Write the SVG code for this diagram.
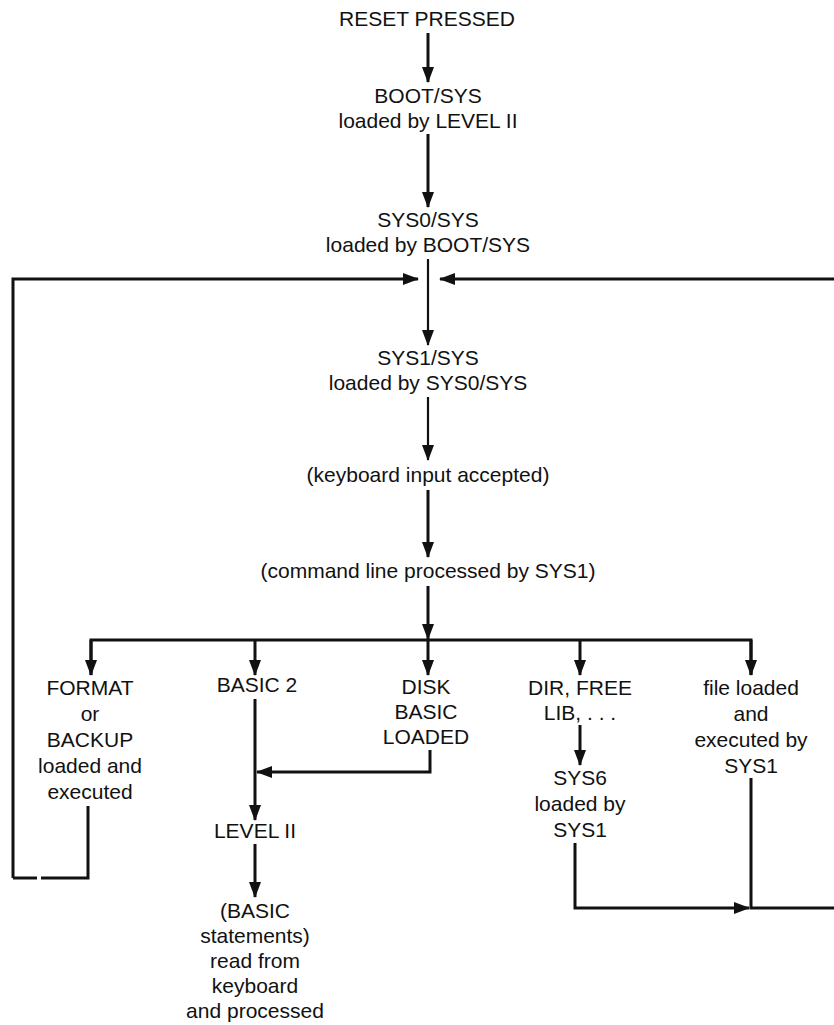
<svg xmlns="http://www.w3.org/2000/svg" width="834" height="1025" viewBox="0 0 834 1025">
<style>
text{font-family:"Liberation Sans",Arial,sans-serif;font-size:21px;fill:#111;text-anchor:middle}
.c{fill:none;stroke:#111;stroke-width:3}
.t{fill:none;stroke:#111;stroke-width:2.2}
</style>
<defs>
<marker id="ah" markerUnits="userSpaceOnUse" markerWidth="16" markerHeight="12" refX="15" refY="6" orient="auto">
<path d="M0,0 L16,6 L0,12 z" fill="#111"/>
</marker>
</defs>
<rect width="834" height="1025" fill="#fff"/>
<g id="connectors">
<path class="c" d="M428,33 V82" marker-end="url(#ah)"/>
<path class="c" d="M428,134 V207" marker-end="url(#ah)"/>
<path class="t" d="M428,259 V345" marker-end="url(#ah)"/>
<path class="c" d="M13,878 V279 H418" marker-end="url(#ah)"/>
<path class="c" d="M834,279 H440" marker-end="url(#ah)"/>
<path class="t" d="M428,397 V460" marker-end="url(#ah)"/>
<path class="c" d="M428,490 V557" marker-end="url(#ah)"/>
<path class="c" d="M428,586 V639" marker-end="url(#ah)"/>
<path class="c" d="M91,675 V640 H751 V675"/>
<path class="c" d="M91,640 V675" marker-end="url(#ah)"/>
<path class="c" d="M255,640 V675" marker-end="url(#ah)"/>
<path class="c" d="M428,640 V675" marker-end="url(#ah)"/>
<path class="c" d="M580,640 V675" marker-end="url(#ah)"/>
<path class="c" d="M751,640 V675" marker-end="url(#ah)"/>
<path class="c" d="M255,699 V820" marker-end="url(#ah)"/>
<path class="c" d="M430,750 V772 H257" marker-end="url(#ah)"/>
<path class="c" d="M255,844 V897" marker-end="url(#ah)"/>
<path class="c" d="M88,806 V878 H41"/>
<path class="c" d="M37,878 H13"/>
<path class="c" d="M580,725 V765" marker-end="url(#ah)"/>
<path class="c" d="M575,843 V908 H749" marker-end="url(#ah)"/>
<path class="c" d="M751,778 V908 H834"/>
</g>
<g id="n-reset"><text x="427" y="26">RESET PRESSED</text></g>
<g id="n-boot"><text x="428" y="103">BOOT/SYS</text><text x="428" y="128">loaded by LEVEL II</text></g>
<g id="n-sys0"><text x="428" y="227">SYS0/SYS</text><text x="428" y="252">loaded by BOOT/SYS</text></g>
<g id="n-sys1"><text x="428" y="365">SYS1/SYS</text><text x="428" y="390">loaded by SYS0/SYS</text></g>
<g id="n-keyboard"><text x="428" y="482">(keyboard input accepted)</text></g>
<g id="n-command"><text x="428" y="578">(command line processed by SYS1)</text></g>
<g id="n-format"><text x="90" y="695">FORMAT</text><text x="90" y="721">or</text><text x="90" y="747">BACKUP</text><text x="90" y="773">loaded and</text><text x="90" y="799">executed</text></g>
<g id="n-basic2"><text x="257" y="692">BASIC 2</text></g>
<g id="n-disk"><text x="426" y="694">DISK</text><text x="426" y="719">BASIC</text><text x="426" y="744">LOADED</text></g>
<g id="n-dir"><text x="580" y="695">DIR, FREE</text><text x="580" y="720">LIB, . . .</text></g>
<g id="n-sys6"><text x="580" y="785">SYS6</text><text x="580" y="811">loaded by</text><text x="580" y="837">SYS1</text></g>
<g id="n-file"><text x="751" y="695">file loaded</text><text x="751" y="721">and</text><text x="751" y="747">executed by</text><text x="751" y="773">SYS1</text></g>
<g id="n-level2"><text x="255" y="838">LEVEL II</text></g>
<g id="n-statements"><text x="255" y="918">(BASIC</text><text x="255" y="943">statements)</text><text x="255" y="968">read from</text><text x="255" y="993">keyboard</text><text x="255" y="1018">and processed</text></g>
</svg>
